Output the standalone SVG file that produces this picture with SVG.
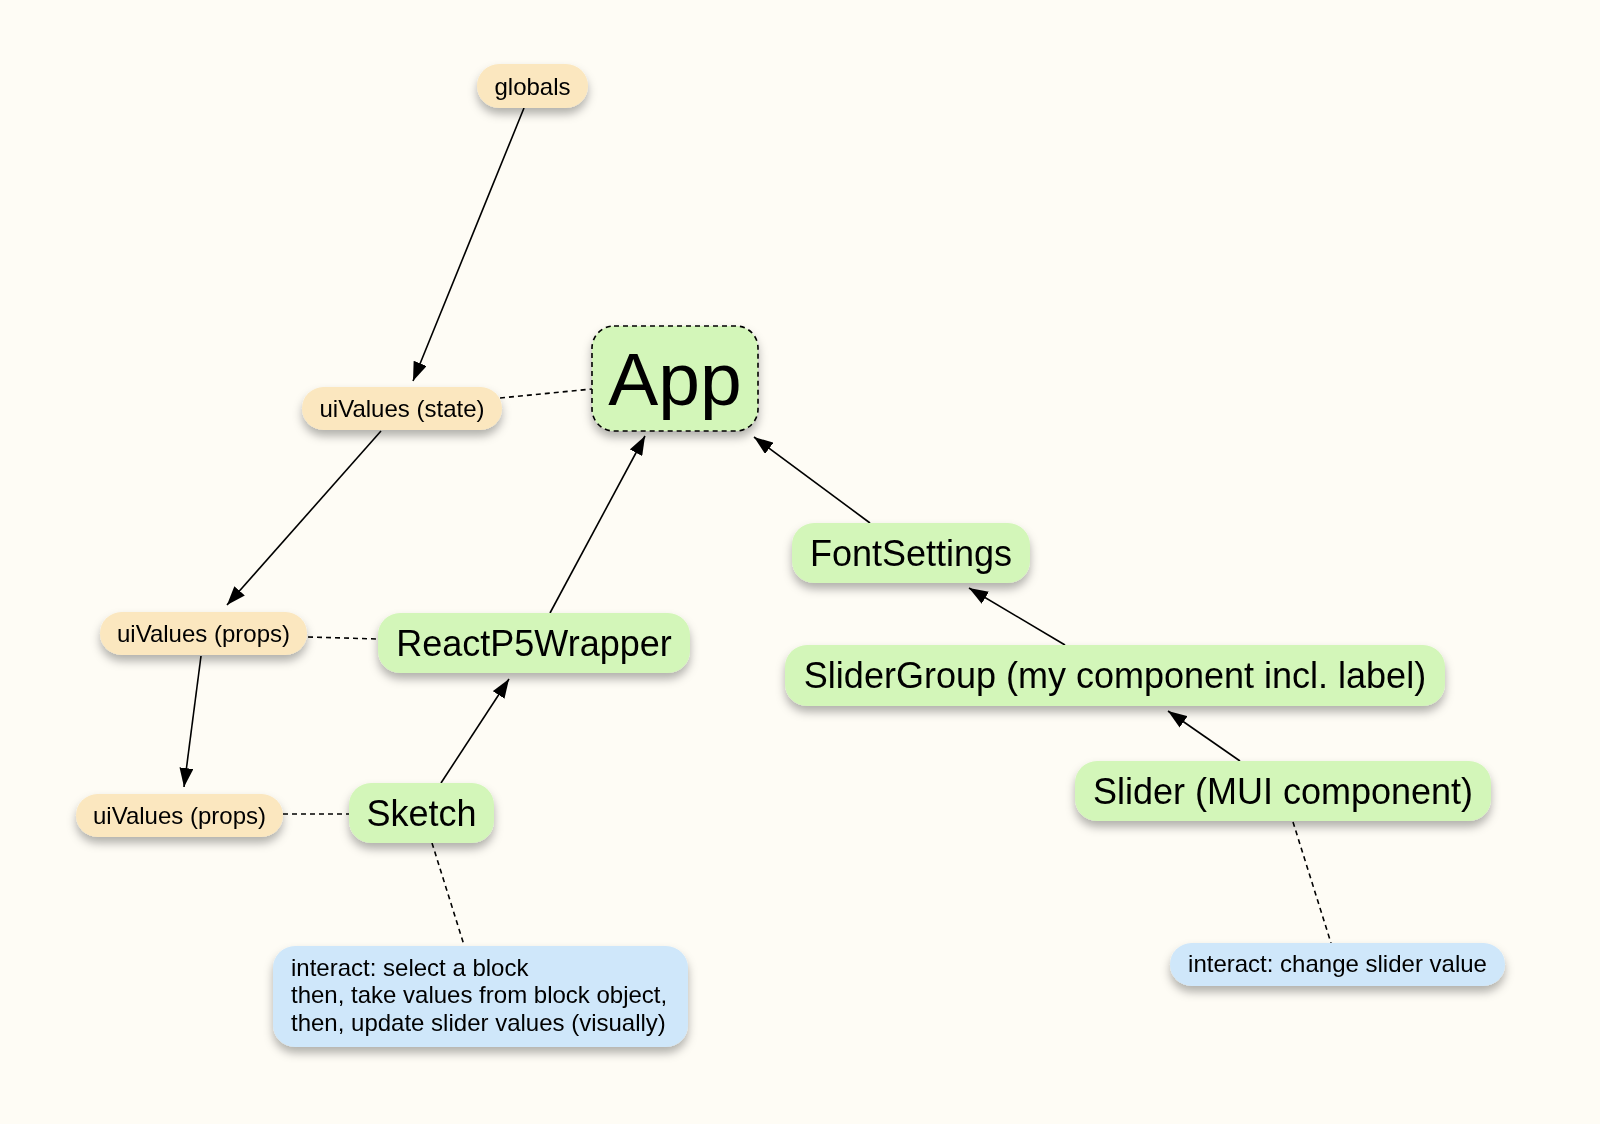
<svg xmlns="http://www.w3.org/2000/svg" width="1600" height="1124" viewBox="0 0 1600 1124">
<defs>
<filter id="sh" x="-20%" y="-30%" width="140%" height="170%">
<feDropShadow dx="0" dy="6" stdDeviation="5" flood-color="#000" flood-opacity="0.3"/>
</filter>
<marker id="ah" markerUnits="userSpaceOnUse" markerWidth="20" markerHeight="14" viewBox="0 0 20 14" refX="19" refY="7" orient="auto">
<path d="M0,0 L19,7 L0,14 z" fill="#000"/>
</marker>
</defs>
<style>
.y{fill:#fbe7bf}
.g{fill:#d3f6b9}
.b{fill:#cfe7fa}
.n{filter:url(#sh)}
.t{font-family:"Liberation Sans",Arial,sans-serif;fill:#000;text-anchor:middle}
.s{font-size:24px}
.m{font-size:36px}
.tl{text-anchor:start}
.e{stroke:#000;stroke-width:1.6;fill:none}
.a{marker-end:url(#ah)}
.d{stroke-dasharray:5 4}
</style>
<rect width="1600" height="1124" fill="#fefcf5"/>
<g id="connectors">
<line class="e a" x1="524" y1="108" x2="413" y2="381"/>
<line class="e d" x1="500" y1="398" x2="592" y2="389"/>
<line class="e a" x1="381" y1="431" x2="227" y2="605"/>
<line class="e d" x1="308" y1="637" x2="378" y2="639"/>
<line class="e a" x1="201" y1="656" x2="184" y2="787"/>
<line class="e d" x1="283" y1="814" x2="349" y2="814"/>
<line class="e a" x1="441" y1="783" x2="509" y2="679"/>
<line class="e a" x1="550" y1="613" x2="645" y2="436"/>
<line class="e a" x1="870" y1="523" x2="754" y2="437"/>
<line class="e a" x1="1065" y1="645" x2="969" y2="588"/>
<line class="e a" x1="1240" y1="761" x2="1168" y2="711"/>
<line class="e d" x1="1293" y1="822" x2="1331" y2="943"/>
<line class="e d" x1="432" y1="843" x2="464" y2="945"/>
</g>
<g id="globals" class="n">
<rect class="y" x="477" y="64" width="111" height="44" rx="22"/>
<text class="t s" x="532.5" y="94.5">globals</text>
</g>
<g id="uivalues-state" class="n">
<rect class="y" x="302" y="387" width="200" height="43" rx="21.5"/>
<text class="t s" x="402" y="417">uiValues (state)</text>
</g>
<g id="app" class="n">
<rect class="g" x="592" y="326" width="166" height="105" rx="22" stroke="#000" stroke-width="1.6" stroke-dasharray="5 4"/>
<text class="t" x="675" y="405" style="font-size:75px">App</text>
</g>
<g id="uivalues-props-1" class="n">
<rect class="y" x="100" y="612" width="207" height="43" rx="21.5"/>
<text class="t s" x="203.5" y="642">uiValues (props)</text>
</g>
<g id="reactp5wrapper" class="n">
<rect class="g" x="378" y="613" width="312" height="60" rx="22"/>
<text class="t m" x="534" y="655.5">ReactP5Wrapper</text>
</g>
<g id="uivalues-props-2" class="n">
<rect class="y" x="76" y="794" width="207" height="43" rx="21.5"/>
<text class="t s" x="179.5" y="824">uiValues (props)</text>
</g>
<g id="sketch" class="n">
<rect class="g" x="349" y="783" width="145" height="60" rx="22"/>
<text class="t m" x="421.5" y="825.5">Sketch</text>
</g>
<g id="fontsettings" class="n">
<rect class="g" x="792" y="523" width="238" height="60" rx="22"/>
<text class="t m" x="911" y="565.5">FontSettings</text>
</g>
<g id="slidergroup" class="n">
<rect class="g" x="785" y="645" width="660" height="61" rx="22"/>
<text class="t m" x="1115" y="688">SliderGroup (my component incl. label)</text>
</g>
<g id="slider" class="n">
<rect class="g" x="1075" y="761" width="416" height="60" rx="22"/>
<text class="t m" x="1283" y="803.5">Slider (MUI component)</text>
</g>
<g id="interact-slider" class="n">
<rect class="b" x="1170" y="943" width="335" height="43" rx="21.5"/>
<text class="t s" x="1337.5" y="972">interact: change slider value</text>
</g>
<g id="interact-sketch" class="n">
<rect class="b" x="273" y="946" width="415" height="101" rx="22"/>
<text class="t s tl" x="291" y="976">interact: select a block</text>
<text class="t s tl" x="291" y="1003.3">then, take values from block object,</text>
<text class="t s tl" x="291" y="1030.6">then, update slider values (visually)</text>
</g>
</svg>
